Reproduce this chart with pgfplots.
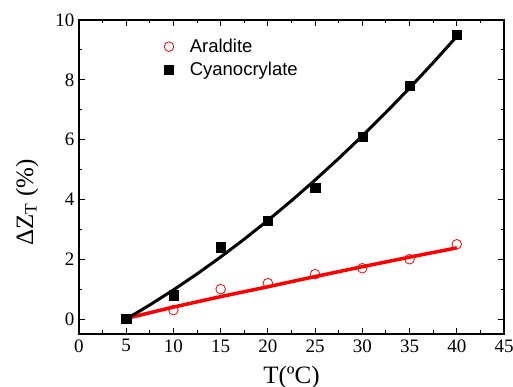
\documentclass[border=0pt]{standalone}
\usepackage{pgfplots}
\pgfplotsset{compat=1.18}
\usepackage{fontspec}
\setmainfont{Liberation Serif}
\newfontfamily\arial{Liberation Sans}
\begin{document}
\begin{tikzpicture}
\begin{axis}[
  scale only axis, width=425pt, height=314pt,
  xmin=0, xmax=45, ymin=-0.5, ymax=10,
  xtick={0,5,...,45}, ytick={0,2,4,6,8,10},
  minor x tick num=1, minor y tick num=1,
  tick align=inside, major tick length=6pt, minor tick length=3.5pt,
  every tick/.style={black, line width=1pt},
  axis line style={line width=1.2pt},
  tick label style={font=\fontsize{19}{19}\selectfont},
  /pgf/number format/assume math mode=true,
  xticklabel style={yshift=-2pt},
  yticklabel style={xshift=-1pt},
  xlabel={T(ºC)},
  ylabel={ΔZ\textsubscript{T} (\%)},
  label style={font=\fontsize{25}{26}\selectfont},
  xlabel style={at={(axis description cs:0.5,0)}, anchor=base, yshift=-49pt},
  ylabel style={at={(axis description cs:-0.1082,0.419)}, anchor=base},
  legend style={at={(rel axis cs:0,1)}, anchor=north west, xshift=82pt, yshift=-15pt,
    draw=none, fill=none, font=\arial\fontsize{18.5}{20}\selectfont, row sep=4pt,
    /tikz/every odd column/.append style={column sep=14pt}},
  legend cell align=left,
]
\addplot[red, line width=3.5pt, forget plot] coordinates {
(5,0.02)(10,0.40)(15,0.75)(20,1.08)(25,1.42)(30,1.75)(35,2.07)(40,2.38)};
\addplot[black, line width=3pt, forget plot] coordinates {
(5,0)(7.5,0.472)(10,0.975)(12.5,1.509)(15,2.075)(17.5,2.672)(20,3.3)(22.5,3.959)(25,4.65)(27.5,5.372)(30,6.125)(32.5,6.909)(35,7.725)(37.5,8.572)(40,9.45)};
\addplot[only marks, red, mark=o, mark size=4.8pt, line width=0.8pt] coordinates {
(5,0)(10,0.3)(15,1.0)(20,1.2)(25,1.5)(30,1.7)(35,2.0)(40,2.5)};
\addlegendentry{Araldite}
\addplot[only marks, black, mark=square*, mark size=4.6pt] coordinates {
(5,0)(10,0.8)(15,2.4)(20,3.3)(25,4.4)(30,6.1)(35,7.8)(40,9.5)};
\addlegendentry{Cyanocrylate}
\coordinate (sw) at (rel axis cs:0,0);
\coordinate (ne) at (rel axis cs:1,1);
\end{axis}
\pgfresetboundingbox
\path ([shift={(-79pt,-53pt)}]sw) rectangle ([shift={(9pt,20pt)}]ne);
\end{tikzpicture}
\end{document}
